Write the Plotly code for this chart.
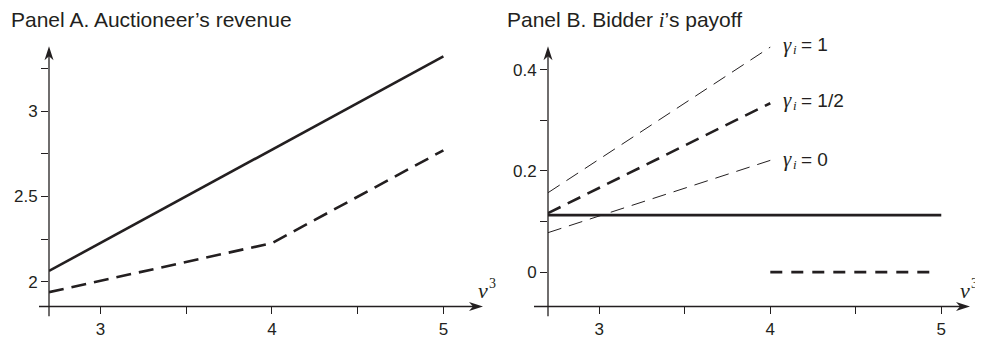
import plotly.graph_objects as go

# ---------------- data ----------------
# Panel A: auctioneer's revenue vs v^3
a_solid_x = [2.7, 5.0]
a_solid_y = [2.064, 3.32]
a_dash_x = [2.7, 4.0, 5.0]
a_dash_y = [1.94, 2.227, 2.77]

# Panel B: bidder i's payoff vs v^3
b_solid_x = [2.7, 5.0]
b_solid_y = [0.1126, 0.1126]
b_g1_x = [2.7, 4.0]
b_g1_y = [0.157, 0.445]
b_ghalf_x = [2.7, 4.0]
b_ghalf_y = [0.1165, 0.334]
b_g0_x = [2.7, 4.0]
b_g0_y = [0.078, 0.221]
b_dash_x = [4.0, 4.96]
b_dash_y = [0.0, 0.0]

gamma_labels = ["1", "1/2", "0"]
gamma_label_y = [0.450, 0.340, 0.223]

x_tickvals = [3, 4, 5]
x_ticktext = ["3", "4", "5"]
x_minor = [3.5, 4.5]
a_tickvals = [2, 2.5, 3]
a_ticktext = ["2", "2.5", "3"]
a_minor = [2.25, 2.75, 3.25]
b_tickvals = [0, 0.2, 0.4]
b_ticktext = ["0", "0.2", "0.4"]
b_minor = [0.1, 0.3]

# ---------------- layout geometry ----------------
OFF = 8                       # page body margin
W, H = 983 - OFF, 339 - OFF
INK = "#231f20"
SANS = "Liberation Sans, Arial, sans-serif"
SERIF = "Liberation Serif, serif"


def px_x(p):
    return (p - OFF) / W


def px_y(p):
    return 1 - (p - OFF) / H


# screen-pixel frame of each panel
A_LEFT, A_RIGHT, TOP, BOTTOM = 49, 483, 47, 312
B_LEFT, B_RIGHT = 548, 970

a_xr = [2.7, 5.231]
a_yr = [1.856, 3.379]
b_xr = [2.7, 5.168]
b_yr = [-0.068, 0.4466]

fig = go.Figure()


def line(x, y, xa, ya, width, dash=None):
    fig.add_trace(go.Scatter(
        x=x, y=y, xaxis=xa, yaxis=ya, mode="lines",
        line=dict(color=INK, width=width, dash=dash),
        showlegend=False, hoverinfo="skip", cliponaxis=False))


line(a_solid_x, a_solid_y, "x", "y", 2.6)
line(a_dash_x, a_dash_y, "x", "y", 2.6, "15px,8px")

line(b_solid_x, b_solid_y, "x2", "y2", 2.6)
line(b_g1_x, b_g1_y, "x2", "y2", 1.0, "14px,8px")
line(b_ghalf_x, b_ghalf_y, "x2", "y2", 2.6, "14px,8px")
line(b_g0_x, b_g0_y, "x2", "y2", 1.0, "14px,8px")
line(b_dash_x, b_dash_y, "x2", "y2", 2.8, "12px,9px")


def axis(domain, rng, anchor, tv, tt, minor):
    return dict(domain=domain, range=rng, anchor=anchor,
                tickvals=tv, ticktext=tt,
                showgrid=False, zeroline=False, showline=False,
                ticks="outside", ticklen=7, tickwidth=1.2, tickcolor=INK,
                tickfont=dict(family=SANS, size=17, color=INK),
                minor=dict(tickvals=minor, ticks="outside", ticklen=7,
                           tickwidth=1.2, tickcolor=INK, showgrid=False))


fig.update_layout(
    width=W, height=H, autosize=False,
    margin=dict(l=0, r=0, t=0, b=0),
    paper_bgcolor="white", plot_bgcolor="white",
    xaxis=axis([px_x(A_LEFT), px_x(A_RIGHT)], a_xr, "y", x_tickvals, x_ticktext, x_minor),
    yaxis=axis([px_y(BOTTOM), px_y(TOP)], a_yr, "x", a_tickvals, a_ticktext, a_minor),
    xaxis2=axis([px_x(B_LEFT), px_x(B_RIGHT)], b_xr, "y2", x_tickvals, x_ticktext, x_minor),
    yaxis2=axis([px_y(BOTTOM), px_y(TOP)], b_yr, "x2", b_tickvals, b_ticktext, b_minor),
)


def axis_line(x0, y0, x1, y1):
    fig.add_shape(type="line", xref="paper", yref="paper",
                  x0=px_x(x0), y0=px_y(y0), x1=px_x(x1), y1=px_y(y1),
                  line=dict(color=INK, width=1.3), layer="above")


def head(xp, yp, path):
    fig.add_shape(type="path", xref="paper", yref="paper",
                  xsizemode="pixel", ysizemode="pixel",
                  xanchor=px_x(xp), yanchor=px_y(yp), path=path,
                  fillcolor=INK, line=dict(width=0), layer="above")


RIGHT_HEAD = "M0,0 L-14,4.5 L-10,0 L-14,-4.5 Z"
UP_HEAD = "M0,0 L-4.5,-14 L0,-10 L4.5,-14 Z"

for left, right in ((A_LEFT, A_RIGHT), (B_LEFT, B_RIGHT)):
    ext = 10 if left == A_LEFT else 14
    axis_line(left - ext, BOTTOM, right - 8, BOTTOM)
    head(right, BOTTOM, RIGHT_HEAD)
    axis_line(left, BOTTOM + 10, left, TOP + 8)
    head(left, TOP, UP_HEAD)


def text(xpx, ypx, s, family, size):
    fig.add_annotation(x=px_x(xpx), y=px_y(ypx), xref="paper", yref="paper",
                       xanchor="left", yanchor="middle", showarrow=False,
                       text=s, font=dict(family=family, size=size, color=INK))


# titles
text(9, 20, "Panel A. Auctioneer’s revenue", SANS, 21)
text(505, 20, f'Panel B. Bidder <span style="font-family:{SERIF}"><i>i</i></span>’s payoff',
     SANS, 21)

# v^3 axis labels (letter plus a separate raised exponent)
for xpx in (476, 958):
    text(xpx, 296, "<i>v</i>", SERIF, 22)
    text(xpx + 11, 289, "3", SERIF, 14)

# gamma labels (placed in screen pixels derived from panel B's y scale)
B_ZERO_PX, B_PX_PER_UNIT = 277, 515
for lab, ly in zip(gamma_labels, gamma_label_y):
    ypx = B_ZERO_PX - ly * B_PX_PER_UNIT
    text(781, ypx, "<i>γ</i>", SERIF, 21)
    text(791, ypx + 5, "<i>i</i>", SERIF, 13)
    text(799, ypx, f"= {lab}", SANS, 19)

fig.write_html("out.html")
